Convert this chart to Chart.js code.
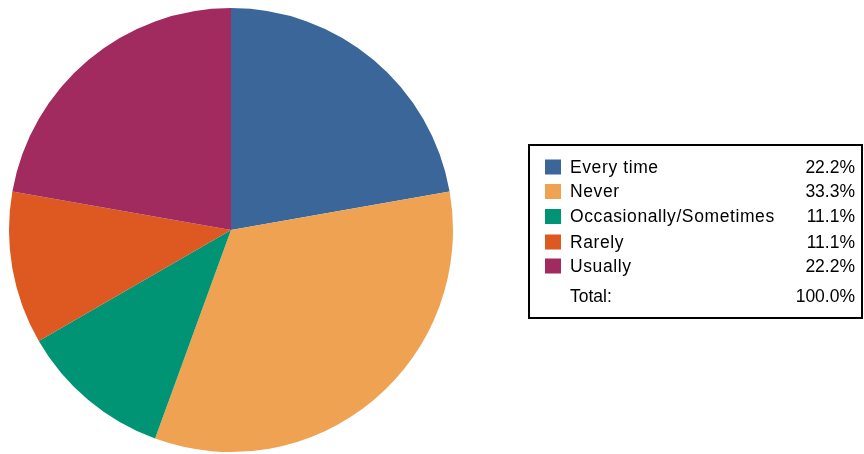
<!DOCTYPE html>
<html>
<head>
<meta charset="utf-8">
<script src="https://cdn.jsdelivr.net/npm/chart.js@4"></script>
<style>
html,body{margin:0;padding:0;background:#fff;}
canvas{display:block;}
</style>
</head>
<body>
<canvas id="c" width="864" height="454"></canvas>
<script>
const categories = ["Every time", "Never", "Occasionally/Sometimes", "Rarely", "Usually"];
const counts = [2, 3, 1, 1, 2];
const colors = ["#3A6699", "#EFA352", "#009474", "#DD5921", "#A12B5F"];
const totalLabel = "Total:";

const total = counts.reduce((a, b) => a + b, 0);
const percents = counts.map(v => (v / total * 100).toFixed(1) + "%");

const legendPlugin = {
  id: "boxLegend",
  afterDraw(chart) {
    const ctx = chart.ctx;
    ctx.save();
    ctx.strokeStyle = "#000";
    ctx.lineWidth = 2;
    ctx.strokeRect(529, 145, 333, 173);
    const rowY = [167, 191.5, 216.5, 242, 266];
    ctx.textBaseline = "middle";
    categories.forEach((name, i) => {
      const y = rowY[i];
      ctx.fillStyle = colors[i];
      ctx.fillRect(545, y - 7.5, 16, 15);
      ctx.fillStyle = "#000";
      ctx.font = "17.5px 'Liberation Sans', Arial, sans-serif";
      ctx.letterSpacing = "0.6px";
      ctx.textAlign = "left";
      ctx.fillText(name, 570, y + 1);
      ctx.letterSpacing = "0px";
      ctx.textAlign = "right";
      ctx.fillText(percents[i], 855, y + 1);
    });
    ctx.font = "17.5px 'Liberation Sans', Arial, sans-serif";
    ctx.textAlign = "left";
    ctx.fillText(totalLabel, 570, 297);
    ctx.textAlign = "right";
    ctx.fillText((counts.reduce((a, b) => a + b, 0) / total * 100).toFixed(1) + "%", 855, 297);
    ctx.restore();
  }
};

new Chart(document.getElementById("c"), {
  type: "pie",
  data: {
    labels: categories,
    datasets: [{
      data: counts,
      backgroundColor: colors,
      borderWidth: 0,
      hoverOffset: 0
    }]
  },
  options: {
    responsive: false,
    animation: false,
    layout: { padding: { left: 9, right: 411, top: 8, bottom: 2 } },
    plugins: {
      legend: { display: false },
      tooltip: { enabled: false }
    }
  },
  plugins: [legendPlugin]
});
</script>
</body>
</html>
